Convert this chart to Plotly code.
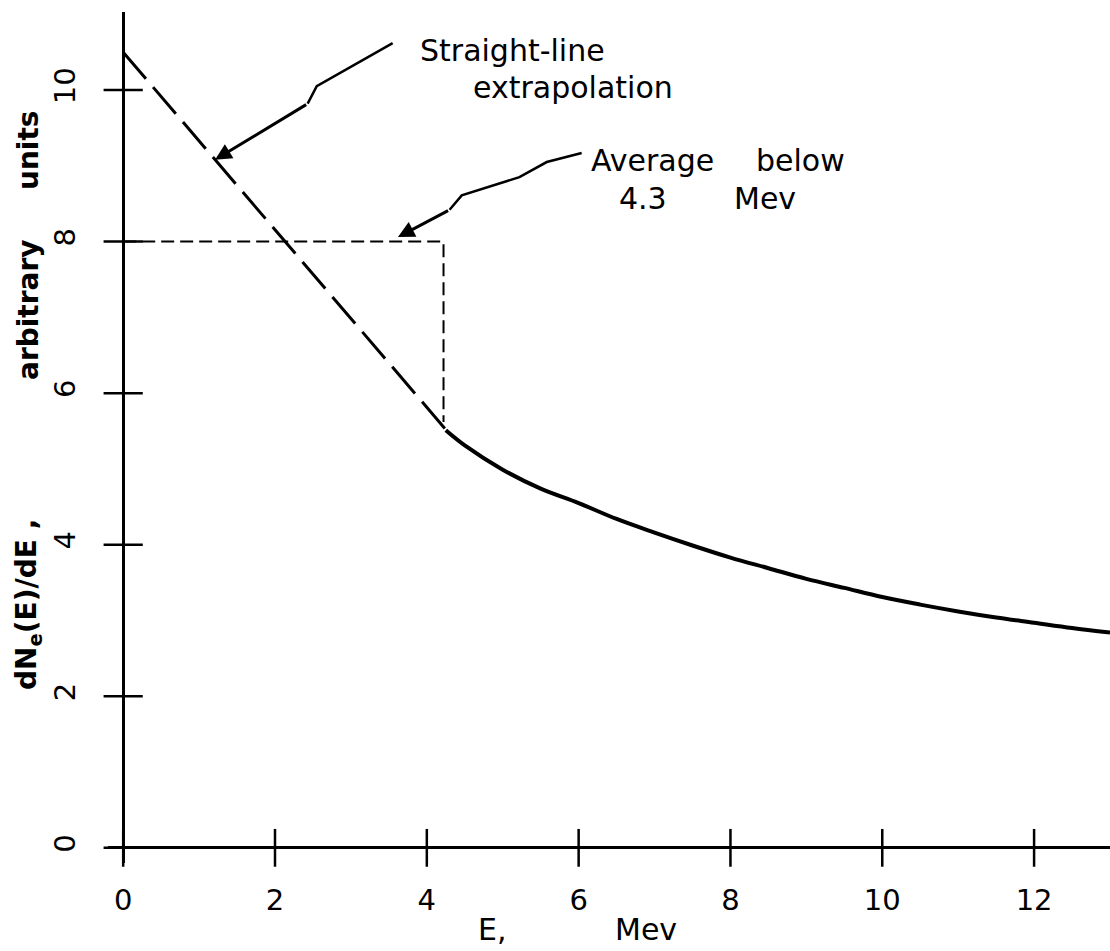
import plotly.graph_objects as go

# ---- data ----
curve_x = [4.25, 4.5, 5, 5.5, 6, 6.5, 7, 7.5, 8, 8.5, 9, 9.5, 10, 10.5, 11, 11.5, 12, 12.5, 13]
curve_y = [5.51, 5.31, 4.99, 4.74, 4.55, 4.34, 4.16, 3.99, 3.83, 3.69, 3.55, 3.43, 3.31, 3.21, 3.12, 3.04, 2.97, 2.90, 2.84]
extrap_x = [0, 4.25]
extrap_y = [10.5, 5.52]
avg_x = [0, 4.22, 4.22]
avg_y = [8, 8, 5.62]
x_ticks = [0, 2, 4, 6, 8, 10, 12]
y_ticks = [0, 2, 4, 6, 8, 10]
x_tick_text = ["0", "2", "4", "6", "8", "10", "12"]
y_tick_text = ["0", "2", "4", "6", "8", "10"]

FONT = "DejaVu Sans"
fig = go.Figure()

# straight-line extrapolation (long dashes)
fig.add_trace(go.Scatter(x=extrap_x, y=extrap_y, mode="lines",
                         line=dict(color="black", width=3, dash="35px,11px"),
                         showlegend=False, hoverinfo="skip"))
# average below 4.3 Mev (short dashes)
fig.add_trace(go.Scatter(x=avg_x, y=avg_y, mode="lines",
                         line=dict(color="black", width=2, dash="13px,6px"),
                         showlegend=False, hoverinfo="skip"))
# measured curve
fig.add_trace(go.Scatter(x=curve_x, y=curve_y, mode="lines", line_shape="spline",
                         line=dict(color="black", width=4),
                         showlegend=False, hoverinfo="skip"))
# crossing tick marks
fig.add_trace(go.Scatter(x=x_ticks, y=[0] * len(x_ticks), mode="markers",
                         marker=dict(symbol="line-ns-open", size=27, color="black",
                                     line=dict(color="black", width=2.5)),
                         showlegend=False, hoverinfo="skip", cliponaxis=False))
fig.add_trace(go.Scatter(x=[0] * len(y_ticks), y=y_ticks, mode="markers",
                         marker=dict(symbol="line-ew-open", size=28, color="black",
                                     line=dict(color="black", width=2.5)),
                         showlegend=False, hoverinfo="skip", cliponaxis=False))

# lightning-style leader lines
fig.add_trace(go.Scatter(x=[3.55, 2.55, 2.43], y=[10.62, 10.05, 9.82],
                         mode="lines", line=dict(color="black", width=2.5),
                         showlegend=False, hoverinfo="skip"))
fig.add_trace(go.Scatter(x=[6.04, 5.58, 5.22, 4.46, 4.30], y=[9.17, 9.05, 8.85, 8.61, 8.42],
                         mode="lines", line=dict(color="black", width=2.5),
                         showlegend=False, hoverinfo="skip"))

fig.update_layout(
    width=1110, height=951,
    margin=dict(l=108, r=0, t=12, b=88),
    paper_bgcolor="white", plot_bgcolor="white",
    font=dict(family=FONT, color="black"),
    xaxis=dict(range=[-0.2, 13], showgrid=False, showline=False, automargin=False,
               zeroline=True, zerolinecolor="black", zerolinewidth=3,
               tickmode="array", tickvals=x_ticks, ticktext=x_tick_text,
               ticks="", ticklabelstandoff=17,
               tickfont=dict(family=FONT, size=29, color="black")),
    yaxis=dict(range=[-0.2, 11.03], showgrid=False, showline=False, automargin=False,
               zeroline=True, zerolinecolor="black", zerolinewidth=3,
               tickmode="array", tickvals=y_ticks, ticktext=y_tick_text,
               ticks="", tickangle=-90, ticklabelstandoff=26,
               tickfont=dict(family=FONT, size=29, color="black")),
)

# arrow heads
fig.add_annotation(x=1.21, y=9.08, ax=2.43, ay=9.82, xref="x", yref="y", axref="x", ayref="y",
                   text="", showarrow=True, arrowhead=2, arrowsize=1.1, arrowwidth=3, arrowcolor="black")
fig.add_annotation(x=3.62, y=8.06, ax=4.30, ay=8.42, xref="x", yref="y", axref="x", ayref="y",
                   text="", showarrow=True, arrowhead=2, arrowsize=1.1, arrowwidth=3, arrowcolor="black")

def px_x(p):
    return (p - 108) / 1002.0

def px_y(p):
    return (863 - p) / 851.0

def note(text, cx, cy, size=30, angle=0, bold=False):
    t = f"<b>{text}</b>" if bold else text
    fig.add_annotation(x=px_x(cx), y=px_y(cy), xref="paper", yref="paper",
                       text=t, showarrow=False, textangle=angle,
                       xanchor="center", yanchor="middle",
                       font=dict(family=FONT, size=size, color="black"))

note("Straight-line", 512, 50)
note("extrapolation", 573, 87)
note("Average", 652, 160)
note("below", 800, 160)
note("4.3", 643, 198)
note("Mev", 765, 198)
note("E,", 492, 929, size=30)
note("Mev", 646, 929, size=30)
note("dN<sub>e</sub>(E)/dE ,", 28, 605, size=28, angle=-90, bold=True)
note("arbitrary", 28, 310, size=28, angle=-90, bold=True)
note("units", 28, 150, size=28, angle=-90, bold=True)

fig.write_html("out.html")
